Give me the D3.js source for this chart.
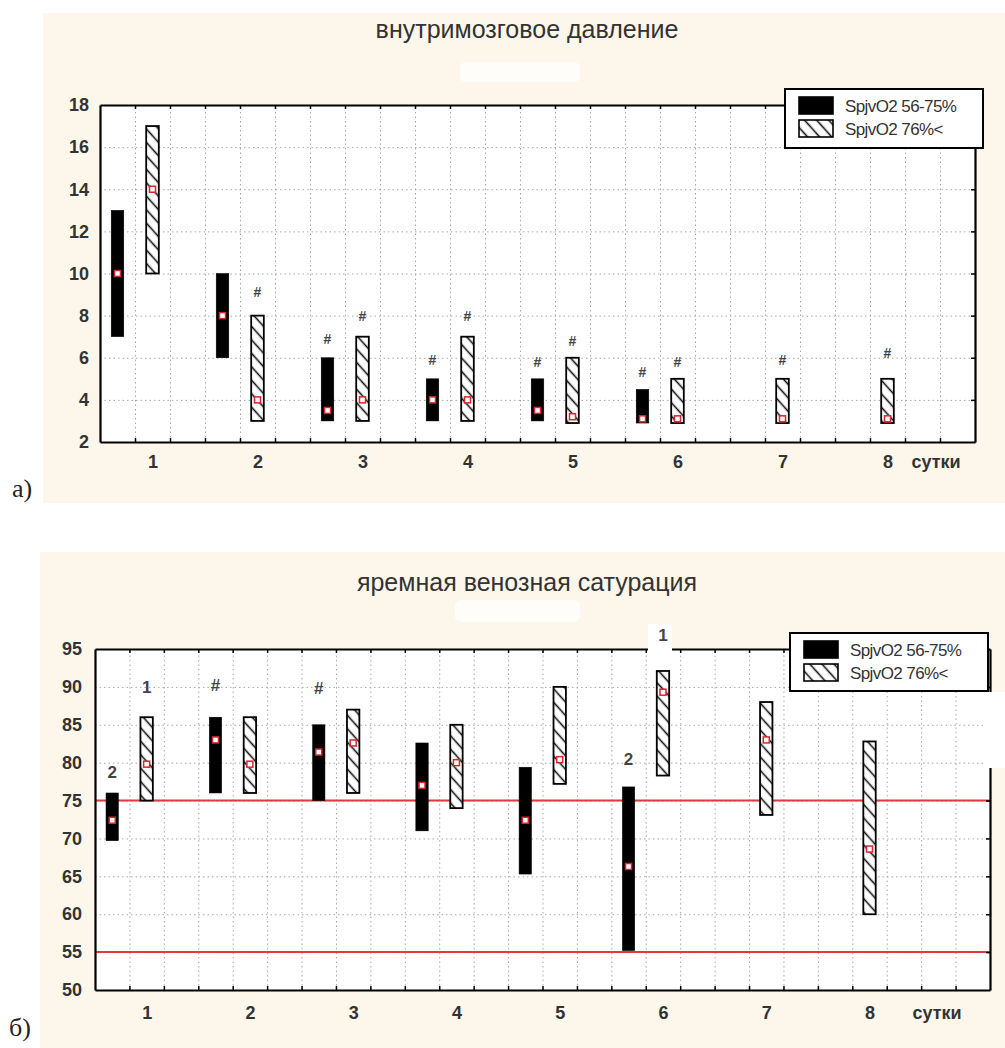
<!DOCTYPE html>
<html><head><meta charset="utf-8">
<script src="https://cdn.jsdelivr.net/npm/d3@7"></script>
<style>body{margin:0;background:#fff}</style>
</head><body>
<svg id="c" width="1005" height="1048"></svg>
<script>
// ---------- data ----------
const days = [1, 2, 3, 4, 5, 6, 7, 8];
const dayLabels = ["1", "2", "3", "4", "5", "6", "7", "8"];
const xUnitLabel = "сутки";
const seriesNames = ["SpjvO2 56-75%", "SpjvO2 76%<"];

// a) intracranial pressure
const titleA = "внутримозговое давление";
const icpTicks = [2, 4, 6, 8, 10, 12, 14, 16, 18];
const icpLowMin  = [7, 6, 3, 3, 3, 2.9, null, null];
const icpLowMax  = [13, 10, 6, 5, 5, 4.5, null, null];
const icpLowMed  = [10, 8, 3.5, 4, 3.5, 3.1, null, null];
const icpHighMin = [10, 3, 3, 3, 2.9, 2.9, 2.9, 2.9];
const icpHighMax = [17, 8, 7, 7, 6, 5, 5, 5];
const icpHighMed = [14, 4, 4, 4, 3.2, 3.1, 3.1, 3.1];
const icpLowNote   = [null, null, "#", "#", "#", "#", null, null];
const icpLowNoteY  = [null, null, 6.9, 5.9, 5.8, 5.3, null, null];
const icpHighNote  = [null, "#", "#", "#", "#", "#", "#", "#"];
const icpHighNoteY = [null, 9.1, 8.0, 8.0, 6.8, 5.8, 5.9, 6.2];

// б) jugular venous saturation
const titleB = "яремная венозная сатурация";
const satTicks = [50, 55, 60, 65, 70, 75, 80, 85, 90, 95];
const satLowMin  = [69.7, 76, 75, 71, 65.3, 55.2, null, null];
const satLowMax  = [76, 86, 85, 82.6, 79.4, 76.8, null, null];
const satLowMed  = [72.4, 83, 81.4, 77, 72.4, 66.3, null, null];
const satHighMin = [75, 76, 76, 74, 77.2, 78.3, 73.1, 60];
const satHighMax = [86, 86, 87, 85, 90, 92.1, 88, 82.8];
const satHighMed = [79.8, 79.8, 82.6, 80, 80.4, 89.3, 83, 68.6];
const satLowNote   = ["2", "#", "#", null, null, "2", null, null];
const satLowNoteY  = [78.8, 90.3, 89.9, null, null, 80.5, null, null];
const satHighNote  = ["1", null, null, null, null, "1", null, null];
const satHighNoteY = [90, null, null, null, null, 96.9, null, null];
const satRefLines = [55, 75];

// ---------- drawing ----------
const svg = d3.select("#c");
const FONT = "Arial, 'Liberation Sans', sans-serif";
const CREAM = "#fcf7ea";

const defs = svg.append("defs");
const pat = defs.append("pattern").attr("id", "hatch")
  .attr("patternUnits", "userSpaceOnUse").attr("width", 9).attr("height", 9)
  .attr("patternTransform", "rotate(-42)");
pat.append("rect").attr("width", 9).attr("height", 9).attr("fill", "#fff");
pat.append("line").attr("x1", 4.5).attr("x2", 4.5).attr("y1", -1).attr("y2", 10)
  .attr("stroke", "#111").attr("stroke-width", 1.6);

// panels
svg.append("rect").attr("x", 43).attr("y", 13).attr("width", 962).attr("height", 490).attr("fill", CREAM);
svg.append("rect").attr("x", 40).attr("y", 552).attr("width", 965).attr("height", 496).attr("fill", CREAM);

function panel(cfg) {
  const g = svg.append("g");
  const x = d3.scaleLinear().domain([0, cfg.nSlots]).range([cfg.left, cfg.right]);
  const y = d3.scaleLinear().domain(cfg.yDomain).range([cfg.bottom, cfg.top]);
  const W = cfg.right - cfg.left, H = cfg.bottom - cfg.top;

  g.append("text").attr("x", 527).attr("y", cfg.titleY).attr("text-anchor", "middle")
    .attr("font-family", FONT).attr("font-size", cfg.titleSize).attr("fill", "#333").text(cfg.title);
  g.append("rect").attr("x", cfg.blob[0]).attr("y", cfg.blob[1]).attr("width", cfg.blob[2])
    .attr("height", cfg.blob[3]).attr("fill", "#fefdf9").attr("rx", 6);

  g.append("rect").attr("x", cfg.left).attr("y", cfg.top).attr("width", W).attr("height", H).attr("fill", "#fff");

  const slotBounds = d3.range(1, cfg.nSlots);
  // grid
  g.append("g").attr("transform", `translate(0,${cfg.bottom})`)
    .call(d3.axisBottom(x).tickValues(slotBounds).tickSize(-H).tickFormat(""))
    .call(s => s.select(".domain").remove())
    .call(s => s.selectAll("line").attr("stroke", "#a8a8a8").attr("stroke-dasharray", "1.5,3"));
  g.append("g").attr("transform", `translate(${cfg.left},0)`)
    .call(d3.axisLeft(y).tickValues(cfg.ticks.slice(1, -1)).tickSize(-W).tickFormat(""))
    .call(s => s.select(".domain").remove())
    .call(s => s.selectAll("line").attr("stroke", "#a8a8a8").attr("stroke-dasharray", "1.5,3"));

  // reference lines
  (cfg.refLines || []).forEach(v => {
    g.append("line").attr("x1", cfg.left).attr("x2", cfg.right).attr("y1", y(v)).attr("y2", y(v))
      .attr("stroke", "#e0393f").attr("stroke-width", 2);
  });

  // bars
  const bw = x(0.36) - x(0);
  function bars(mins, maxs, meds, slotOff, fill) {
    days.forEach((d, i) => {
      if (mins[i] == null) return;
      const cx = x(3 * i + slotOff);
      g.append("rect").attr("x", cx - bw / 2).attr("y", y(maxs[i])).attr("width", bw)
        .attr("height", y(mins[i]) - y(maxs[i])).attr("fill", fill)
        .attr("stroke", "#000").attr("stroke-width", fill === "#000" ? 0.5 : 1.8);
      g.append("rect").attr("x", cx - 3).attr("y", y(meds[i]) - 3).attr("width", 6).attr("height", 6)
        .attr("fill", "#fff").attr("stroke", "#d8252e").attr("stroke-width", 1.5);
    });
  }
  bars(cfg.lowMin, cfg.lowMax, cfg.lowMed, 0.5, "#000");
  bars(cfg.highMin, cfg.highMax, cfg.highMed, 1.5, "url(#hatch)");

  // notes
  function notes(labels, ys, slotOff) {
    days.forEach((d, i) => {
      if (labels[i] == null) return;
      g.append("text").attr("x", x(3 * i + slotOff)).attr("y", y(ys[i])).attr("dy", "0.35em")
        .attr("text-anchor", "middle").attr("font-family", FONT).attr("font-weight", "bold")
        .attr("font-size", cfg.noteSize).attr("fill", "#444").text(labels[i]);
    });
  }

  // axes frame with inward ticks
  const tk = s => s.selectAll("line").attr("stroke", "#000").attr("stroke-width", 1.5);
  g.append("g").attr("transform", `translate(0,${cfg.bottom})`)
    .call(d3.axisBottom(x).tickValues(slotBounds).tickSize(-4).tickSizeOuter(0).tickFormat("")).call(tk)
    .call(s => s.select(".domain").attr("stroke-width", 2.2));
  g.append("g").attr("transform", `translate(0,${cfg.top})`)
    .call(d3.axisTop(x).tickValues(slotBounds).tickSize(-4).tickSizeOuter(0).tickFormat("")).call(tk)
    .call(s => s.select(".domain").attr("stroke-width", 2.2));
  g.append("g").attr("transform", `translate(${cfg.right},0)`)
    .call(d3.axisRight(y).tickValues(cfg.ticks.slice(1, -1)).tickSize(-4).tickSizeOuter(0).tickFormat("")).call(tk)
    .call(s => s.select(".domain").attr("stroke-width", 2.2));
  const ya = g.append("g").attr("transform", `translate(${cfg.left},0)`)
    .call(d3.axisLeft(y).tickValues(cfg.ticks).tickSize(0).tickSizeOuter(0).tickPadding(cfg.yPad));
  ya.select(".domain").attr("stroke-width", 2.2);
  ya.selectAll("text").attr("font-family", FONT).attr("font-weight", "bold")
    .attr("font-size", cfg.tickSize).attr("fill", "#333");

  // x labels at day centres
  const xl = g.append("g").attr("transform", `translate(0,${cfg.bottom})`)
    .call(d3.axisBottom(x).tickValues(days.map((d, i) => 3 * i + 1.5))
      .tickFormat((d, i) => dayLabels[i]).tickSize(0).tickPadding(cfg.xPad));
  xl.select(".domain").remove();
  xl.selectAll("text").attr("font-family", FONT).attr("font-weight", "bold")
    .attr("font-size", cfg.tickSize).attr("fill", "#333");
  g.append("text").attr("x", cfg.unitX).attr("y", cfg.bottom + cfg.xPad).attr("dy", "0.71em")
    .attr("text-anchor", "middle").attr("font-family", FONT).attr("font-weight", "bold")
    .attr("font-size", cfg.unitSize).attr("fill", "#333").text(xUnitLabel);

  if (cfg.gap) {
    g.append("rect").attr("x", cfg.gap[0]).attr("y", cfg.gap[1]).attr("width", cfg.gap[2])
      .attr("height", cfg.gap[3]).attr("fill", "#fff");
  }
  if (cfg.noteBox) {
    g.append("rect").attr("x", cfg.noteBox[0]).attr("y", cfg.noteBox[1]).attr("width", cfg.noteBox[2])
      .attr("height", cfg.noteBox[3]).attr("fill", "#fff");
  }
  notes(cfg.lowNote, cfg.lowNoteY, 0.5);
  notes(cfg.highNote, cfg.highNoteY, 1.5);

  // legend
  const L = cfg.legend;
  const lg = g.append("g");
  lg.append("rect").attr("x", L.x).attr("y", L.y).attr("width", L.w).attr("height", L.h)
    .attr("fill", "#fff").attr("stroke", "#000").attr("stroke-width", 2);
  [["#000", 0], ["url(#hatch)", 1]].forEach(([f, k]) => {
    lg.append("rect").attr("x", L.x + 14).attr("y", L.y + 8 + k * 23).attr("width", 34).attr("height", 17)
      .attr("fill", f).attr("stroke", "#000").attr("stroke-width", 1.6);
    lg.append("text").attr("x", L.x + 60).attr("y", L.y + 17 + k * 23).attr("dy", "0.35em")
      .attr("font-family", FONT).attr("font-size", 17).attr("fill", "#333")
      .attr("letter-spacing", "-0.6").text(seriesNames[k]);
  });
  return g;
}

panel({
  title: titleA, titleY: 38, titleSize: 25, blob: [460, 62, 120, 20],
  left: 100, right: 975, top: 105, bottom: 442, nSlots: 25,
  yDomain: [2, 18], ticks: icpTicks, yPad: 11, xPad: 13, tickSize: 18, unitSize: 18, unitX: 936,
  noteSize: 14,
  lowMin: icpLowMin, lowMax: icpLowMax, lowMed: icpLowMed,
  highMin: icpHighMin, highMax: icpHighMax, highMed: icpHighMed,
  lowNote: icpLowNote, lowNoteY: icpLowNoteY, highNote: icpHighNote, highNoteY: icpHighNoteY,
  legend: { x: 785, y: 89, w: 198, h: 59 }
});

panel({
  title: titleB, titleY: 591, titleSize: 25, blob: [455, 600, 125, 22],
  left: 95, right: 990, top: 649, bottom: 990, nSlots: 26,
  yDomain: [50, 95], ticks: satTicks, yPad: 13, xPad: 16, tickSize: 18, unitSize: 18, unitX: 937,
  noteSize: 17, refLines: satRefLines,
  lowMin: satLowMin, lowMax: satLowMax, lowMed: satLowMed,
  highMin: satHighMin, highMax: satHighMax, highMed: satHighMed,
  lowNote: satLowNote, lowNoteY: satLowNoteY, highNote: satHighNote, highNoteY: satHighNoteY,
  gap: [985, 692, 20, 76], noteBox: [648, 624, 24, 30],
  legend: { x: 790, y: 633, w: 198, h: 58 }
});

// panel letters
svg.append("text").attr("x", 12).attr("y", 497).attr("font-family", "'Liberation Serif', 'Times New Roman', serif")
  .attr("font-size", 26).attr("fill", "#222").text("а)");
svg.append("text").attr("x", 9).attr("y", 1036).attr("font-family", "'Liberation Serif', 'Times New Roman', serif")
  .attr("font-size", 26).attr("fill", "#222").text("б)");
</script>
</body></html>
